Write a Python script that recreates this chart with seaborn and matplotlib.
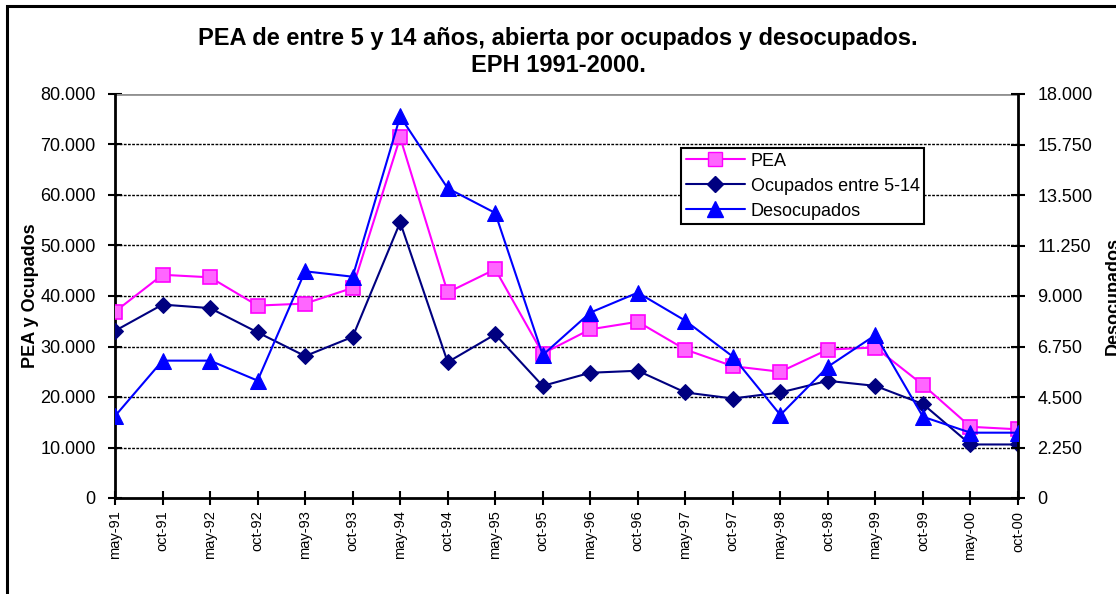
import seaborn as sns
import pandas as pd
import matplotlib.pyplot as plt
from matplotlib.lines import Line2D
from matplotlib.patches import Rectangle

periodos = ["may-91", "oct-91", "may-92", "oct-92", "may-93", "oct-93", "may-94",
            "oct-94", "may-95", "oct-95", "may-96", "oct-96", "may-97", "oct-97",
            "may-98", "oct-98", "may-99", "oct-99", "may-00", "oct-00"]
pea = [36900, 44200, 43700, 38100, 38500, 41600, 71400, 40700, 45300, 28600,
       33400, 34900, 29400, 26100, 25000, 29400, 29800, 22400, 14100, 13600]
ocupados = [33100, 38300, 37600, 32800, 28100, 31900, 54600, 26900, 32400, 22200,
            24800, 25200, 20900, 19700, 20900, 23200, 22200, 18600, 10600, 10600]
desocupados = [3650, 6120, 6120, 5230, 10100, 9860, 17000, 13800, 12700, 6370,
               8260, 9150, 7900, 6300, 3700, 5850, 7260, 3620, 2910, 2910]

df = pd.DataFrame({"i": range(len(periodos)), "periodo": periodos,
                   "PEA": pea, "Ocupados": ocupados, "Desocupados": desocupados})

sns.set_style("white")
plt.rcParams['font.family'] = ['Liberation Sans', 'DejaVu Sans']
plt.rcParams['text.color'] = 'black'
plt.rcParams['axes.labelcolor'] = 'black'
plt.rcParams['xtick.color'] = 'black'
plt.rcParams['ytick.color'] = 'black'

fig = plt.figure(figsize=(11.16, 5.94), dpi=100)
ax = fig.add_axes([115 / 1116, 1 - 498 / 594, (1018 - 115) / 1116, (498 - 94) / 594])
ax2 = ax.twinx()

# marco exterior del grafico
fig.patches.append(Rectangle((7 / 1116, -0.1), 1.2, 1 - 6 / 594 + 0.1,
                             transform=fig.transFigure, fill=False,
                             edgecolor="black", linewidth=2.2))

magenta = "#FF00FF"
navy = "#000080"
blue = "#0000FF"

sns.lineplot(data=df, x="i", y="PEA", ax=ax, color=magenta, linewidth=1.5,
             marker="s", markersize=10, markerfacecolor="#FF66FF",
             markeredgecolor=magenta, markeredgewidth=1.2, zorder=4)
sns.lineplot(data=df, x="i", y="Ocupados", ax=ax, color=navy, linewidth=1.5,
             marker="D", markersize=8, markerfacecolor=navy,
             markeredgecolor=navy, zorder=4)
sns.lineplot(data=df, x="i", y="Desocupados", ax=ax2, color=blue, linewidth=1.5,
             marker="^", markersize=12, markerfacecolor=blue,
             markeredgecolor=blue, zorder=4)

ax.set_xlim(0, len(periodos) - 1)
ax.set_ylim(0, 80000)
ax2.set_ylim(0, 18000)
yt = list(range(0, 80001, 10000))
ax.set_yticks(yt)
ax.set_yticklabels(["0" if v == 0 else f"{v // 1000}.000" for v in yt], fontsize=13)
yt2 = [0, 2250, 4500, 6750, 9000, 11250, 13500, 15750, 18000]
ax2.set_yticks(yt2)
ax2.set_yticklabels(["0" if v == 0 else f"{v // 1000}.{v % 1000:03d}" for v in yt2], fontsize=13)
ax.set_xticks(df["i"])
ax.set_xticklabels(periodos, rotation=90, fontsize=10.5)

for v in yt[1:-1]:
    ax.axhline(v, color="black", linestyle=(0, (2, 1)), linewidth=1.0, zorder=1)
ax.axhline(80000, color="#909090", linewidth=2, zorder=1)

for a in (ax, ax2):
    a.grid(False)
    a.set_xlabel("")
    for s in a.spines.values():
        s.set_visible(False)
ax.spines["left"].set_visible(True)
ax.spines["bottom"].set_visible(True)
ax2.spines["right"].set_visible(True)
for s in ("left", "bottom"):
    ax.spines[s].set_color("black")
    ax.spines[s].set_linewidth(2)
ax2.spines["right"].set_color("black")
ax2.spines["right"].set_linewidth(2)
ax.tick_params(axis="y", direction="inout", length=10, width=1.5, color="black",
               left=True, pad=9)
ax.tick_params(axis="x", direction="inout", length=10, width=1.5, color="black",
               bottom=True, pad=4)
ax2.tick_params(axis="y", direction="inout", length=10, width=1.5, color="black",
                right=True, pad=9)

ax.set_ylabel("PEA y Ocupados", fontsize=13, fontweight="bold", labelpad=1)
ax2.set_ylabel("Desocupados", fontsize=13, fontweight="bold", labelpad=9)

fig.text(0.5, 1 - 38 / 594, "PEA de entre 5 y 14 años, abierta por ocupados y desocupados.",
         ha="center", va="center", fontsize=17, fontweight="bold")
fig.text(0.5, 1 - 66 / 594, "EPH 1991-2000.", ha="center", va="center", fontsize=17,
         fontweight="bold")

handles = [
    Line2D([], [], color=magenta, marker="s", markersize=10, markerfacecolor="#FF66FF",
           markeredgecolor=magenta, linewidth=1.5),
    Line2D([], [], color=navy, marker="D", markersize=8, linewidth=1.5),
    Line2D([], [], color=blue, marker="^", markersize=12, linewidth=1.5),
]
leg = ax2.legend(handles, ["PEA", "Ocupados entre 5-14", "Desocupados"],
                 loc="upper left", bbox_to_anchor=((681 - 115) / 903, (498 - 148) / 404),
                 fontsize=13, frameon=True, fancybox=False, framealpha=1,
                 edgecolor="black", borderpad=0.25, labelspacing=0.45, borderaxespad=0,
                 handlelength=3.3, handletextpad=0.3)
leg.get_frame().set_linewidth(1.5)
leg.set_zorder(10)

fig.savefig("out.png", dpi=100)
